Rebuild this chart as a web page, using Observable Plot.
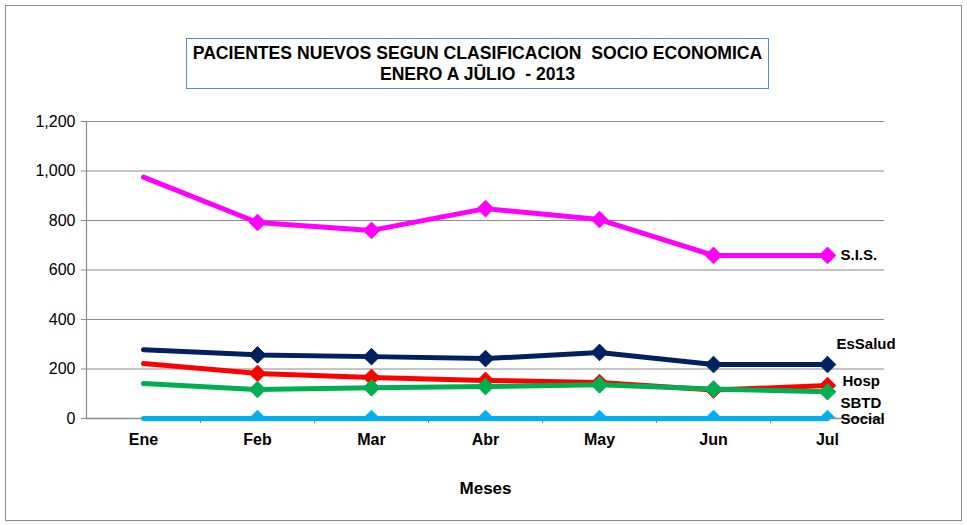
<!DOCTYPE html>
<html><head><meta charset="utf-8">
<script src="https://cdn.jsdelivr.net/npm/d3@7"></script>
<script src="https://cdn.jsdelivr.net/npm/@observablehq/plot@0.6"></script>
<style>
html,body{margin:0;padding:0;background:#fff;}
#wrap{position:relative;width:967px;height:525px;overflow:hidden;}
#frame{position:absolute;left:5px;top:5px;width:957px;height:516px;border:1px solid #8c8c8c;box-sizing:border-box;}
#title{position:absolute;left:186px;top:38px;width:583px;height:51px;border:1px solid #5b87c5;box-sizing:border-box;
  font-family:"Liberation Sans",Arial,sans-serif;font-weight:bold;font-size:17.6px;line-height:21px;
  text-align:center;padding-top:4px;color:#000;}
#chart{position:absolute;left:0;top:0;}
</style></head>
<body><div id="wrap"><div id="frame"></div><div id="chart"></div>
<div id="title">PACIENTES NUEVOS SEGUN CLASIFICACION&nbsp; SOCIO ECONOMICA<br>ENERO A JU&#772;LIO&nbsp; - 2013</div></div>
<script>
const months = ["Ene","Feb","Mar","Abr","May","Jun","Jul"];
const seriesNames = ["S.I.S.","EsSalud","Hosp","SBTD","Social"];
const sis     = [975, 792, 760, 848, 804, 659, 659];
const essalud = [278, 257, 250, 242, 267, 218, 218];
const hosp    = [222, 182, 166, 154, 145, 115, 133];
const sbtd    = [141, 117, 124, 129, 136, 119, 108];
const social  = [0, 0, 0, 0, 0, 0, 0];
const yTicks  = [0, 200, 400, 600, 800, 1000, 1200];

const colors = ["#ff00ff", "#002060", "#ff0000", "#00b050", "#00b0f0"];
const labelDy = [0, -20, -4, 11, 1];
const labelDx = [13, 9, 15, 13, 13];
const allSeries = [sis, essalud, hosp, sbtd, social];
const idx = months.map((_, i) => i);

const marks = [
  Plot.ruleY(yTicks.slice(1), {stroke: "#8c8c8c", strokeWidth: 1.2}),
  Plot.axisY({ticks: yTicks, tickFormat: d3.format(","), tickSize: 5, tickPadding: 6, fontSize: 16,
    fontFamily: "Liberation Sans, Arial, sans-serif", stroke: "#8c8c8c", color: "#000", label: null}),
  Plot.ruleX([-0.5], {stroke: "#8c8c8c", strokeWidth: 1.2}),
  Plot.axisX({ticks: [0.5,1.5,2.5,3.5,4.5,5.5], tickSize: 5, tickFormat: () => "", stroke: "#8c8c8c", label: null}),
  Plot.axisX({ticks: idx, tickSize: 0, tickPadding: 15, tickFormat: i => months[i], fontSize: 16, fontWeight: "bold",
    fontFamily: "Liberation Sans, Arial, sans-serif", color: "#000", label: null}),
  Plot.ruleY([0], {stroke: "#8c8c8c", strokeWidth: 1.5}),
  Plot.text(["Meses"], {frameAnchor: "bottom", dy: 75, fontSize: 17, fontWeight: "bold",
    fontFamily: "Liberation Sans, Arial, sans-serif", fill: "#000"})
];

allSeries.forEach((vals, s) => {
  marks.push(Plot.line(idx, {x: i => i, y: i => vals[i], stroke: colors[s], strokeWidth: 5,
    strokeLinecap: "round", strokeLinejoin: "round"}));
  marks.push(Plot.dot(idx.slice(1), {x: i => i, y: i => vals[i], symbol: "diamond2", r: 7.5, fill: colors[s],
    stroke: colors[s], strokeWidth: 1, clip: s === 4}));
});
allSeries.forEach((vals, s) => {
  marks.push(Plot.text([seriesNames[s]], {x: () => 6, y: () => vals[6], dx: labelDx[s], dy: labelDy[s],
    textAnchor: "start", fontSize: 15, fontWeight: "bold", fill: "#000",
    fontFamily: "Liberation Sans, Arial, sans-serif", letterSpacing: s === 0 ? "1.5px" : "0px"}));
});

const chart = Plot.plot({
  width: 967, height: 525,
  marginLeft: 86, marginRight: 83, marginTop: 121, marginBottom: 107,
  x: {type: "linear", domain: [-0.5, 6.5]},
  y: {domain: [0, 1200]},
  style: {background: "transparent", overflow: "visible"},
  marks
});
document.getElementById("chart").appendChild(chart);
</script></body></html>
